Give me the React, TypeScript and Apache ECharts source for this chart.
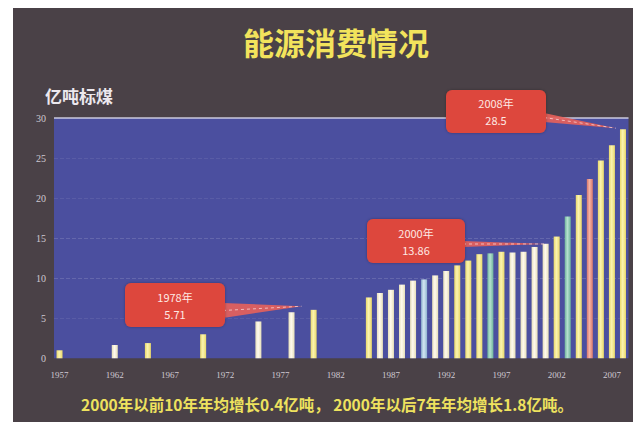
import React, { useEffect, useRef } from "react";
import * as echarts from "echarts";

// ---------- data ----------
const FIRST_YEAR = 1957;
const LAST_YEAR = 2008;
const DATA_YEARS = [
  1957, 1962, 1965, 1970, 1975, 1978, 1980,
  1985, 1986, 1987, 1988, 1989, 1990, 1991, 1992, 1993, 1994, 1995,
  1996, 1997, 1998, 1999, 2000, 2001, 2002, 2003, 2004, 2005, 2006, 2007, 2008,
];
const DATA_VALUES = [
  1.0, 1.66, 1.9, 3.0, 4.6, 5.75, 6.05,
  7.6, 8.15, 8.55, 9.2, 9.7, 9.85, 10.35, 10.9, 11.6, 12.2, 13.0,
  13.1, 13.3, 13.2, 13.3, 13.9, 14.3, 15.2, 17.7, 20.4, 22.4, 24.7, 26.6, 28.6,
];
const Y_MIN = 0;
const Y_MAX = 30;
const Y_INTERVAL = 5;
const X_LABEL_EVERY = 5;

const TITLE = "能源消费情况";
const UNIT = "亿吨标煤";
const FOOTNOTE = "2000年以前10年年均增长0.4亿吨， 2000年以后7年年均增长1.8亿吨。";

const ANNOTATION_YEARS = [1978, 2000, 2008];
const ANNOTATION_TITLES = ["1978年", "2000年", "2008年"];
const ANNOTATION_VALUES = ["5.71", "13.86", "28.5"];

// ---------- styles ----------
const BG_DARK = "#4a4147";
const PLOT_BLUE = "#4b4f9f";
const YELLOW = ["#e9d96a", "#fbf3b0"];
const CREAM = ["#e6dfb8", "#fffaf0"];
const TEAL = ["#6fb59c", "#b5e0cf"];
const BLUE = ["#8fb3cf", "#d3e6f2"];
const SALMON = ["#d9786a", "#f3b3a6"];
const COLOR_BY_YEAR: Record<number, string[]> = {
  1962: CREAM, 1975: CREAM, 1978: CREAM, 1986: CREAM, 1987: CREAM, 1988: CREAM,
  1989: CREAM, 1990: BLUE, 1991: CREAM, 1992: CREAM, 1996: TEAL, 1998: CREAM,
  1999: CREAM, 2000: CREAM, 2001: CREAM, 2003: TEAL, 2005: SALMON,
};
// boxes: [x, y, w, h], wedge band on box edge [y0, y1], tip offset [dx, dy]
const BOXES = [
  { rect: [125, 283, 100, 44], band: [303, 318], off: [10, -6] },
  { rect: [367, 219, 98, 44], band: [241, 247], off: [11, -3] },
  { rect: [446, 90, 100, 43], band: [113, 122], off: [-7, -1] },
];
const BOX_RED = "#dd473c";

export default function App() {
  const ref = useRef<HTMLDivElement>(null);

  useEffect(() => {
    if (!ref.current) return;
    const chart = echarts.init(ref.current, undefined, { renderer: "svg" });

    const categories: string[] = [];
    for (let y = FIRST_YEAR; y <= LAST_YEAR; y++) categories.push(String(y));
    const seriesData = categories.map((c) => {
      const yr = Number(c);
      const i = DATA_YEARS.indexOf(yr);
      if (i < 0) return null;
      const col = COLOR_BY_YEAR[yr] || YELLOW;
      return {
        value: DATA_VALUES[i],
        itemStyle: {
          color: new echarts.graphic.LinearGradient(0, 0, 1, 0, [
            { offset: 0, color: col[0] },
            { offset: 0.45, color: col[1] },
            { offset: 1, color: col[0] },
          ]),
        },
      };
    });

    chart.setOption({
      animation: false,
      backgroundColor: "transparent",
      title: {
        text: TITLE,
        left: 331,
        top: 21,
        textAlign: "center",
        textStyle: {
          color: "#f2e35c",
          fontSize: 31,
          fontWeight: "bold",
          fontFamily: "Noto Sans CJK SC",
        },
      },
      grid: {
        left: 54,
        right: 4.5,
        top: 118,
        bottom: 63.7,
        show: true,
        backgroundColor: PLOT_BLUE,
        borderWidth: 0,
      },
      xAxis: {
        type: "category",
        data: categories,
        axisLine: { show: false },
        axisTick: { show: false },
        axisLabel: {
          interval: X_LABEL_EVERY - 1,
          color: "#cfc9d2",
          fontSize: 9,
          fontFamily: "Liberation Serif",
          margin: 12,
        },
      },
      yAxis: {
        type: "value",
        min: Y_MIN,
        max: Y_MAX,
        interval: Y_INTERVAL,
        axisLine: { show: false },
        axisTick: { show: false },
        axisLabel: {
          color: "#cfc9d2",
          fontSize: 10,
          fontFamily: "Liberation Serif",
          margin: 8,
        },
        splitLine: {
          show: true,
          lineStyle: {
            color: [
              "rgba(0,0,0,0)",
              "rgba(255,255,255,0.08)",
              "rgba(255,255,255,0.14)",
              "rgba(255,255,255,0.14)",
              "rgba(255,255,255,0.08)",
              "rgba(255,255,255,0.08)",
              "rgba(0,0,0,0)",
            ],
            type: "dashed",
            width: 1,
          },
        },
      },
      series: [
        {
          type: "bar",
          data: seriesData,
          barWidth: 6,
          markLine: {
            silent: true,
            symbol: "none",
            label: { show: false },
            lineStyle: { color: "rgba(225,225,240,0.85)", type: "solid", width: 1.5 },
            data: [{ yAxis: Y_MAX }],
          },
        },
      ],
    });

    const graphics: any[] = [
      {
        type: "text",
        left: 45,
        top: 87,
        style: {
          text: UNIT,
          fill: "#ece8ee",
          fontSize: 17,
          fontWeight: "bold",
          fontFamily: "Noto Sans CJK SC",
        },
      },
      {
        type: "text",
        x: 327,
        y: 404,
        style: {
          text: FOOTNOTE,
          fill: "#eee25e",
          fontSize: 15.5,
          fontWeight: "bold",
          fontFamily: "Noto Sans CJK SC",
          align: "center",
          verticalAlign: "middle",
        },
      },
    ];

    ANNOTATION_YEARS.forEach((yr, k) => {
      const idx = categories.indexOf(String(yr));
      const di = DATA_YEARS.indexOf(yr);
      const p = chart.convertToPixel({ xAxisIndex: 0, yAxisIndex: 0 }, [idx, DATA_VALUES[di]]) as number[];
      const b = BOXES[k];
      const [bx, by, bw, bh] = b.rect;
      const tip = [p[0] + b.off[0], p[1] + b.off[1]];
      const ex = bx + bw - 2;
      graphics.push({
        type: "polygon",
        shape: { points: [[ex, b.band[0]], [ex, b.band[1]], tip] },
        style: { fill: "rgba(232,96,90,0.9)" },
        z: 10,
      });
      graphics.push({
        type: "line",
        shape: { x1: ex, y1: (b.band[0] + b.band[1]) / 2, x2: tip[0], y2: tip[1] },
        style: { stroke: "rgba(255,225,225,0.7)", lineWidth: 1, lineDash: [3, 3] },
        z: 11,
      });
      graphics.push({
        type: "rect",
        shape: { x: bx, y: by, width: bw, height: bh, r: 6 },
        style: { fill: BOX_RED, shadowBlur: 3, shadowColor: "rgba(0,0,0,0.3)" },
        z: 12,
      });
      graphics.push({
        type: "text",
        x: bx + bw / 2,
        y: by + bh / 2,
        style: {
          text: ANNOTATION_TITLES[k] + "\n" + ANNOTATION_VALUES[k],
          fill: "#fde9e4",
          fontSize: 11,
          lineHeight: 17,
          fontFamily: "Noto Sans CJK SC",
          align: "center",
          verticalAlign: "middle",
        },
        z: 13,
      });
    });

    chart.setOption({ graphic: graphics });

    return () => chart.dispose();
  }, []);

  return (
    <div
      style={{
        position: "fixed",
        left: 0,
        top: 0,
        width: 633,
        height: 422,
        background: "#ffffff",
        overflow: "hidden",
      }}
    >
      <div
        style={{
          position: "absolute",
          left: 13,
          top: 8,
          right: 0,
          bottom: 0,
          background: BG_DARK,
        }}
      />
      <div ref={ref} style={{ position: "absolute", left: 0, top: 0, width: 633, height: 422 }} />
    </div>
  );
}
